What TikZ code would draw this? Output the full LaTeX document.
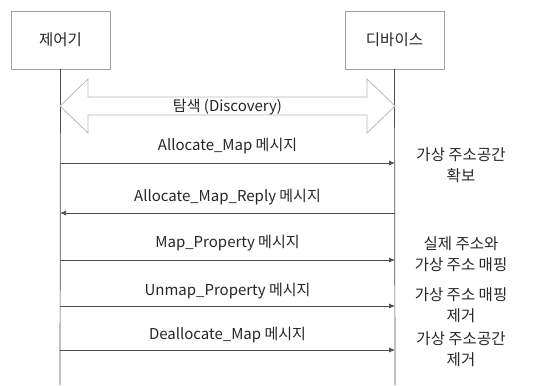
\documentclass[tikz,border=0pt]{standalone}
\usepackage{fontspec}
\setmainfont{Noto Sans CJK KR}
\usetikzlibrary{calc,positioning,arrows.meta}
\tikzset{
  actor/.style={draw=gray!75, fill=white, minimum width=99pt, minimum height=58pt, inner sep=0pt, font=\fontsize{15.5}{18}\selectfont, text=black!85},
  life/.style={draw=gray!60!black, line width=0.7pt},
  msg/.style={draw=gray!60!black, line width=0.7pt, -{Latex[length=6pt,width=5pt]}},
  msglabel/.style={font=\fontsize{15}{17}\selectfont, text=black!85, inner sep=0pt},
  note/.style={font=\fontsize{15.5}{21}\selectfont, align=center, text=black!85, inner sep=0pt}
}
\begin{document}
\begin{tikzpicture}[x=1pt, y=-1pt]
    % Frame
    \useasboundingbox (0,0) rectangle (545,385);
    % Actors
    \node[actor] (ctrl) at (60.5,40) {제어기};
    \node[actor] (dev) at (394.5,40) {디바이스};
    % Lifelines
    \coordinate (ctrlend) at (60,385);
    \coordinate (devend) at (395,385);
    \draw[life] (ctrl.south) -- (ctrlend);
    \draw[life] (dev.south) -- (devend);
    % Discovery double arrow
    \coordinate (dl) at (60,106);
    \coordinate (dr) at (395,106);
    \draw[draw=gray!55, fill=white, line width=0.8pt]
      (dl) -- ($(dl)+(28,-27)$) -- ($(dl)+(28,-9)$) -- ($(dr)+(-28,-9)$) -- ($(dr)+(-28,-27)$)
      -- (dr) -- ($(dr)+(-28,27)$) -- ($(dr)+(-28,9)$) -- ($(dl)+(28,9)$) -- ($(dl)+(28,27)$) -- cycle;
    \node[msglabel] (disc) at ($(dl)!0.5!(dr)+(0,1)$) {탐색 (Discovery)};
    % Messages
    \coordinate (a1) at (60,163);  \coordinate (b1) at (395,163);
    \coordinate (a2) at (60,213);  \coordinate (b2) at (395,213);
    \coordinate (a3) at (60,260);  \coordinate (b3) at (395,260);
    \coordinate (a4) at (60,306);  \coordinate (b4) at (395,306);
    \coordinate (a5) at (60,350);  \coordinate (b5) at (395,350);
    \draw[msg] (a1) -- (b1) node[msglabel, midway, yshift=17pt] (m1) {Allocate\_Map 메시지};
    \draw[msg] (b2) -- (a2) node[msglabel, midway, yshift=16pt] (m2) {Allocate\_Map\_Reply 메시지};
    \draw[msg] (a3) -- (b3) node[msglabel, midway, yshift=17pt] (m3) {Map\_Property 메시지};
    \draw[msg] (a4) -- (b4) node[msglabel, midway, yshift=15pt] (m4) {Unmap\_Property 메시지};
    \draw[msg] (a5) -- (b5) node[msglabel, midway, yshift=15pt] (m5) {Deallocate\_Map 메시지};
    % Notes on the device side
    \node[note] (n1) at (461,165) {가상 주소공간\\확보};
    \node[note] (n2) at (461,254) {실제 주소와\\가상 주소 매핑};
    \node[note] (n3) at (461,305) {가상 주소 매핑\\제거};
    \node[note] (n4) at (461,349) {가상 주소공간\\제거};
\end{tikzpicture}
\end{document}
